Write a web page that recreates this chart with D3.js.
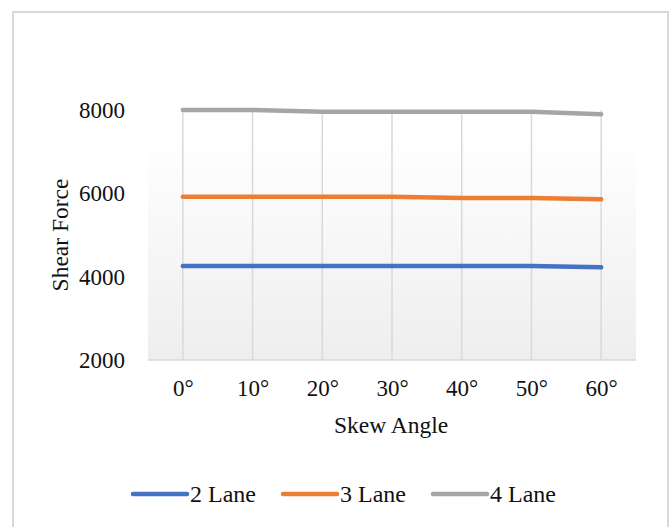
<!DOCTYPE html>
<html>
<head>
<meta charset="utf-8">
<script src="https://cdn.jsdelivr.net/npm/d3@7"></script>
<style>
  body { margin: 0; background: #fff; }
  svg text { font-family: "Liberation Serif", "Times New Roman", serif; fill: #111; }
</style>
</head>
<body>
<div id="chart"></div>
<script>
// data
var angles = ["0°", "10°", "20°", "30°", "40°", "50°", "60°"];
var lane2 = [4256, 4256, 4256, 4256, 4256, 4256, 4224];
var lane3 = [5920, 5920, 5920, 5920, 5888, 5888, 5856];
var lane4 = [8000, 8000, 7960, 7960, 7960, 7960, 7900];
var seriesNames = ["2 Lane", "3 Lane", "4 Lane"];
var yTicks = [2000, 4000, 6000, 8000];

var series = [
  {name: seriesNames[0], values: lane2, color: "#4472C4"},
  {name: seriesNames[1], values: lane3, color: "#ED7D31"},
  {name: seriesNames[2], values: lane4, color: "#A5A5A5"}
];

var W = 672, H = 527;
var margin = {top: 110, right: 36, bottom: 167, left: 148},
    width = W - margin.left - margin.right,
    height = H - margin.top - margin.bottom;

var svg = d3.select("#chart").append("svg")
  .attr("width", W)
  .attr("height", H);

// outer chart border
svg.append("rect")
  .attr("x", 13).attr("y", 12)
  .attr("width", 655).attr("height", 530)
  .attr("fill", "none")
  .attr("stroke", "#d9d9d9")
  .attr("stroke-width", 2);

var defs = svg.append("defs");
var grad = defs.append("linearGradient")
  .attr("id", "bg").attr("x1", 0).attr("y1", 0).attr("x2", 0).attr("y2", 1);
grad.append("stop").attr("offset", "0%").attr("stop-color", "#ffffff");
grad.append("stop").attr("offset", "100%").attr("stop-color", "#eeeeee");

var g = svg.append("g")
  .attr("transform", "translate(" + margin.left + "," + margin.top + ")");

var x = d3.scalePoint()
  .domain(angles)
  .range([0, width])
  .padding(0.5);

var y = d3.scaleLinear()
  .domain([2000, 8000])
  .range([height, 0]);

// plot area background
g.append("rect")
  .attr("x", 0).attr("y", 26)
  .attr("width", width).attr("height", height - 26)
  .attr("fill", "url(#bg)");

// vertical gridlines
g.append("g")
  .selectAll("line")
  .data(angles)
  .enter()
  .append("line")
    .attr("x1", function(d) { return x(d); })
    .attr("x2", function(d) { return x(d); })
    .attr("y1", y(2000))
    .attr("y2", y(8000))
    .attr("stroke", "#d9d9d9")
    .attr("stroke-width", 1.5);

// baseline
g.append("line")
  .attr("x1", 0).attr("x2", width)
  .attr("y1", y(2000)).attr("y2", y(2000))
  .attr("stroke", "#d9d9d9")
  .attr("stroke-width", 1.5);

// Y axis
var yAxis = g.append("g")
  .call(d3.axisLeft(y).tickValues(yTicks).tickFormat(d3.format("d")).tickSize(0).tickPadding(23));
yAxis.select(".domain").remove();
yAxis.attr("font-family", null).attr("font-size", null);
yAxis.selectAll("text").style("font-size", "23px").attr("fill", "#111");

// X axis
var xAxis = g.append("g")
  .attr("transform", "translate(0," + height + ")")
  .call(d3.axisBottom(x).tickSize(0).tickPadding(20));
xAxis.select(".domain").remove();
xAxis.attr("font-family", null).attr("font-size", null);
xAxis.selectAll("text").style("font-size", "23px").attr("fill", "#111");

// axis titles
svg.append("text")
  .attr("x", 391).attr("y", 433)
  .attr("text-anchor", "middle")
  .style("font-size", "23.5px")
  .text("Skew Angle");

svg.append("text")
  .attr("transform", "translate(68,235) rotate(-90)")
  .attr("text-anchor", "middle")
  .style("font-size", "23.5px")
  .text("Shear Force");

// lines
var line = d3.line()
  .x(function(d, i) { return x(angles[i]); })
  .y(function(d) { return y(d); });

g.selectAll(".series")
  .data(series)
  .enter()
  .append("path")
    .attr("class", "series")
    .attr("d", function(d) { return line(d.values); })
    .attr("fill", "none")
    .attr("stroke", function(d) { return d.color; })
    .attr("stroke-width", 4.5)
    .attr("stroke-linecap", "round")
    .attr("stroke-linejoin", "round");

// legend
var legend = svg.append("g").attr("transform", "translate(133,494)");
var item = legend.selectAll("g")
  .data(series)
  .enter()
  .append("g")
    .attr("transform", function(d, i) { return "translate(" + (i * 150) + ",0)"; });
item.append("line")
  .attr("x1", 0).attr("x2", 54)
  .attr("y1", 0).attr("y2", 0)
  .attr("stroke", function(d) { return d.color; })
  .attr("stroke-width", 4.5)
  .attr("stroke-linecap", "round");
item.append("text")
  .attr("x", 57).attr("y", 8)
  .style("font-size", "24px")
  .text(function(d) { return d.name; });
</script>
</body>
</html>
